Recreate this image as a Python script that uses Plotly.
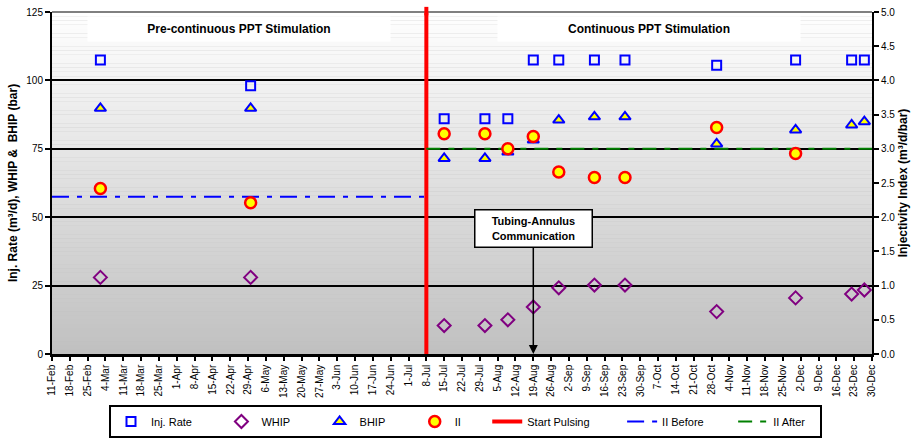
import plotly.graph_objects as go
import pandas as pd

# ---------------- data ----------------
dates = ["2002-03-02", "2002-04-30", "2002-07-15", "2002-07-31", "2002-08-09",
         "2002-08-19", "2002-08-29", "2002-09-12", "2002-09-24", "2002-10-30",
         "2002-11-30", "2002-12-22", "2002-12-27"]
inj_rate = [107.5, 98.0, 86.0, 86.0, 86.0, 107.5, 107.5, 107.5, 107.5, 105.5, 107.5, 107.5, 107.5]
whip = [28.0, 28.0, 10.4, 10.4, 12.5, 17.2, 24.2, 25.2, 25.2, 15.5, 20.5, 21.9, 23.4]
bhip = [89.8, 89.8, 71.5, 71.5, 73.8, 78.2, 85.5, 86.7, 86.7, 76.8, 81.9, 83.7, 84.9]
ii = [2.42, 2.21, 3.22, 3.22, 3.00, 3.18, 2.66, 2.58, 2.58, 3.31, 2.93, None, None]

start_date = "2002-02-11"
pulse_date = "2002-07-08"
end_date = "2002-12-30"
ii_before = 2.3
ii_after = 3.0
arrow_date = "2002-08-19"

tick_dates = pd.date_range(start_date, end_date, freq="7D")

FONT = "Arial, 'Liberation Sans', sans-serif"

fig = go.Figure()

fig.add_trace(go.Scatter(
    x=dates, y=inj_rate, mode="markers", name="Inj. Rate" + "\u00a0" * 8,
    marker=dict(symbol="square-open", size=9, color="#0000ff", line=dict(width=2, color="#0000ff")),
    legendrank=1))
fig.add_trace(go.Scatter(
    x=dates, y=whip, mode="markers", name="WHIP" + "\u00a0" * 8,
    marker=dict(symbol="diamond-open", size=10, color="#800080", line=dict(width=2, color="#800080")),
    legendrank=2))
fig.add_trace(go.Scatter(
    x=dates, y=bhip, mode="markers", name="BHIP" + "\u00a0" * 8,
    marker=dict(symbol="triangle-up", size=10, color="#ffff00", line=dict(width=2, color="#0000ff")),
    legendrank=3))
fig.add_trace(go.Scatter(
    x=[pulse_date, pulse_date], y=[0, 125], mode="lines", name="Start Pulsing" + "\u00a0" * 9,
    line=dict(color="#ff0000", width=4), legendrank=5))
fig.add_trace(go.Scatter(
    x=[start_date, pulse_date], y=[ii_before, ii_before], mode="lines", yaxis="y2",
    name="II Before" + "\u00a0" * 8,
    line=dict(color="#0000ff", width=2, dash="17px,8px,5px,8px"), legendrank=6))
fig.add_trace(go.Scatter(
    x=[pulse_date, end_date], y=[ii_after, ii_after], mode="lines", yaxis="y2",
    name="II After" + "\u00a0" * 3,
    line=dict(color="#008000", width=2, dash="14px,8px,6px,8px"), legendrank=7))
fig.add_trace(go.Scatter(
    x=dates, y=ii, mode="markers", yaxis="y2", name="II" + "\u00a0" * 7,
    marker=dict(symbol="circle", size=11, color="#ffff00", line=dict(width=2.5, color="#ff0000")),
    legendrank=4))

# gradient background
shapes = []
N = 80
for i in range(N):
    f = (i + 0.5) / N
    c = int(round(192 + 63 * f))
    shapes.append(dict(type="rect", xref="x domain", yref="y domain",
                       x0=0, x1=1, y0=i / N, y1=(i + 1) / N,
                       fillcolor=f"rgb({c},{c},{c})", line=dict(width=0), layer="below"))
shapes.append(dict(type="line", xref="x domain", yref="y domain", x0=0, x1=1, y0=1, y1=1,
                   line=dict(color="#808080", width=2), layer="above"))
# small extension of the pulsing line above the plot frame
shapes.append(dict(type="line", xref="x", yref="y domain", x0=pulse_date, x1=pulse_date,
                   y0=0.99, y1=1.015, line=dict(color="#ff0000", width=4), layer="above"))

annotations = [
    dict(text="<b>Pre-continuous PPT Stimulation</b>", xref="paper", yref="paper",
         x=(239 - 52) / 820, y=(354 - 29) / 342, xanchor="center", yanchor="middle",
         showarrow=False, bgcolor="white",
         width=300, height=22, font=dict(family=FONT, size=12, color="black")),
    dict(text="<b>Continuous PPT Stimulation</b>", xref="paper", yref="paper",
         x=(649 - 52) / 820, y=(354 - 29) / 342, xanchor="center", yanchor="middle",
         showarrow=False, bgcolor="white",
         width=300, height=22, font=dict(family=FONT, size=12, color="black")),
    dict(text="<b>Tubing-Annulus<br>Communication</b>", x=arrow_date, y=0, xref="x", yref="y",
         ax=arrow_date, ay=46, axref="x", ayref="y", showarrow=True, arrowhead=2,
         arrowsize=1.2, arrowwidth=1.5, arrowcolor="black", bgcolor="white",
         bordercolor="black", borderwidth=1.5, borderpad=3, width=110, height=30,
         font=dict(family=FONT, size=11, color="black")),
]

fig.update_layout(
    width=914, height=442,
    margin=dict(l=52, r=42, t=12, b=88, autoexpand=False),
    paper_bgcolor="white", plot_bgcolor="#c0c0c0",
    font=dict(family=FONT, size=10, color="black"),
    shapes=shapes, annotations=annotations,
    showlegend=True,
    legend=dict(orientation="h", x=(109 - 52) / 820, y=(354 - 405) / 342,
                xanchor="left", yanchor="top", bgcolor="white", bordercolor="black",
                borderwidth=2,
                font=dict(family=FONT, size=11, color="black"),
                traceorder="normal"),
    xaxis=dict(type="date", range=[start_date, end_date], tickvals=tick_dates,
               tickformat="%-d-%b", tickangle=-90, ticks="outside", ticklen=4,
               tickcolor="black", tickwidth=1.5, showline=True, linecolor="black",
               linewidth=2.5, showgrid=False, zeroline=False, automargin=False,
               tickfont=dict(family=FONT, size=10, color="black")),
    yaxis=dict(range=[0, 125], tickvals=[0, 25, 50, 75, 100, 125], ticks="outside",
               ticklen=5, tickcolor="black", tickwidth=2, showline=True,
               linecolor="black", linewidth=2, showgrid=True, gridcolor="black",
               gridwidth=1.5, zeroline=False, automargin=False,
               tickfont=dict(family=FONT, size=10, color="black"),
               title=dict(text="<b>Inj. Rate (m³/d), WHIP &  BHIP (bar)</b>", standoff=6,
                          font=dict(family=FONT, size=12, color="black"))),
    yaxis2=dict(range=[0, 5], dtick=0.5, tick0=0, tickformat=".1f", overlaying="y",
                side="right", ticks="outside", ticklen=5, tickcolor="black", tickwidth=2,
                showline=True, linecolor="black", linewidth=2, showgrid=False,
                zeroline=False, automargin=False,
                tickfont=dict(family=FONT, size=10, color="black"),
                title=dict(text="<b>Injectivity Index (m³/d/bar)</b>", standoff=4,
                           font=dict(family=FONT, size=12, color="black"))),
)

fig.write_html("out.html", config={"displayModeBar": False},
               post_script="document.body.style.margin='0';document.body.style.overflow='hidden';")
